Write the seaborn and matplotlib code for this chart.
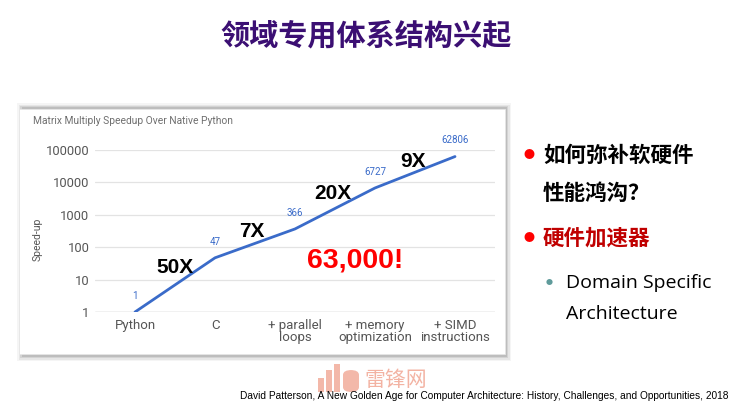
import matplotlib.pyplot as plt
import seaborn as sns
from matplotlib.patches import FancyBboxPatch, Rectangle

# 数据
stages = ["Python", "C", "+ parallel\nloops", "+ memory\noptimization", "+ SIMD\ninstructions"]
speedup = [1, 47, 366, 6727, 62806]
y_ticks = [1, 10, 100, 1000, 10000, 100000]
step_labels = ["50X", "7X", "20X", "9X"]
step_x = [0.5, 1.46, 2.475, 3.475]
step_y = [23, 295, 4400, 43000]

sns.set_style("white")
plt.rcParams['font.family'] = ['Roboto', 'DejaVu Sans']

fig = plt.figure(figsize=(7.4, 4.08), dpi=100)
W, H = 740, 408

def fx(px):
    return px / W

def fy(py):
    return 1 - py / H

# 面板背景+阴影
for i, a in enumerate([0.04, 0.06, 0.08, 0.1]):
    d = 6 - i * 1.5
    fig.patches.append(Rectangle((fx(19 - d + 4), fy(355 + d)), fx(486 + 2 * d - 4), (246 + 2 * d) / H,
                                 transform=fig.transFigure, facecolor="black", alpha=a,
                                 edgecolor="none", zorder=0))
fig.patches.append(Rectangle((fx(19), fy(354)), fx(486), 245 / H, transform=fig.transFigure,
                             facecolor="white", edgecolor="#e6e6e6", lw=0.6, zorder=1))

ax = fig.add_axes([fx(95), fy(312), fx(400), 162 / H])
ax.set_zorder(2)
ax.patch.set_alpha(0)

sns.pointplot(x=stages, y=speedup, ax=ax, color="#3a6bc9", markers="", linestyles="-",
              linewidth=2)
ax.set_yscale("log")
ax.set_ylim(1, 100000)
ax.set_xlim(-0.5, 4.5)
ax.set_yticks(y_ticks)
ax.set_yticklabels([str(v) for v in y_ticks])
ax.minorticks_off()
ax.yaxis.grid(True, color="#e3e3e3", lw=0.9)
ax.axhline(1, color="#c8c8c8", lw=1, zorder=0)
for s in ax.spines.values():
    s.set_visible(False)
ax.tick_params(axis="y", length=0, labelsize=9.3, labelcolor="#555555", pad=4)
ax.tick_params(axis="x", length=0, labelsize=9.5, labelcolor="#555555", pad=5)
for lbl in ax.get_xticklabels():
    lbl.set_linespacing(0.95)
ax.set_xlabel("")
ax.set_ylabel("Speed-up", fontsize=7.5, color="#555555", labelpad=2)
ax.yaxis.set_label_coords(-0.13, 0.45)

# 数值标签
for i, v in enumerate(speedup):
    ax.annotate(str(v), (i, v), xytext=(0, 8), textcoords="offset points", ha="center",
                va="bottom", fontsize=7, color="#3a6bc9")

for lab, x, y in zip(step_labels, step_x, step_y):
    ax.text(x, y, lab, fontsize=15, fontweight="bold", color="black", ha="center",
            va="center", family=["Liberation Sans", "DejaVu Sans"])
ax.text(2.75, 40, "63,000!", fontsize=20.5, fontweight="bold", color="#ff0000", ha="center",
        va="center", family=["Liberation Sans", "DejaVu Sans"])

fig.text(fx(33), fy(121), "Matrix Multiply Speedup Over Native Python", fontsize=7.4,
         color="#6f6f6f", va="center", ha="left", zorder=3)

# 标题
cjk = ['Noto Sans CJK SC', 'DejaVu Sans']
fig.text(fx(366), fy(35), "领域专用体系结构兴起", fontsize=21, fontweight="bold",
         color="#3b0f73", ha="center", va="center", family=cjk)

# 右侧要点
fig.text(fx(529), fy(155), "●", fontsize=8, color="#ff0000", ha="center", va="center", family=cjk)
fig.text(fx(543), fy(155), "如何弥补软硬件", fontsize=15.5, fontweight="bold", color="black",
         va="center", family=cjk)
fig.text(fx(543), fy(193), "性能鸿沟？", fontsize=15.5, fontweight="bold", color="black",
         va="center", family=cjk)
fig.text(fx(529), fy(238), "●", fontsize=8, color="#ff0000", ha="center", va="center", family=cjk)
fig.text(fx(543), fy(238), "硬件加速器", fontsize=15.5, fontweight="bold", color="#c00000",
         va="center", family=cjk)
fig.text(fx(549), fy(283), "●", fontsize=5, color="#5f9b9b", ha="center", va="center", family=cjk)
fig.text(fx(566), fy(283), "Domain Specific", fontsize=14, color="black", va="center",
         family=["Open Sans", "DejaVu Sans"])
fig.text(fx(566), fy(314), "Architecture", fontsize=14, color="black", va="center",
         family=["Open Sans", "DejaVu Sans"])

# 水印
for bx, bh in [(318, 14), (326, 22), (334, 28)]:
    fig.patches.append(Rectangle((fx(bx), fy(392)), fx(6), bh / H, transform=fig.transFigure,
                                 facecolor="#f0a08c", alpha=0.75, edgecolor="none", zorder=3))
fig.patches.append(FancyBboxPatch((fx(343), fy(392)), fx(16), 22 / H, boxstyle="round,pad=0.0,rounding_size=0.012",
                                  transform=fig.transFigure, facecolor="#f0a08c", alpha=0.75,
                                  edgecolor="none", zorder=3))
fig.text(fx(396), fy(380), "雷锋网", fontsize=15, color="#f0a08c", alpha=0.8, ha="center",
         va="center", family=cjk, zorder=3)

# 引用
fig.text(fx(728), fy(396), "David Patterson, A New Golden Age for Computer Architecture: History, "
         "Challenges, and Opportunities, 2018", fontsize=7.3, color="black", ha="right",
         va="center", family=["Liberation Sans", "DejaVu Sans"], zorder=4)

plt.savefig("out.png", dpi=100)
